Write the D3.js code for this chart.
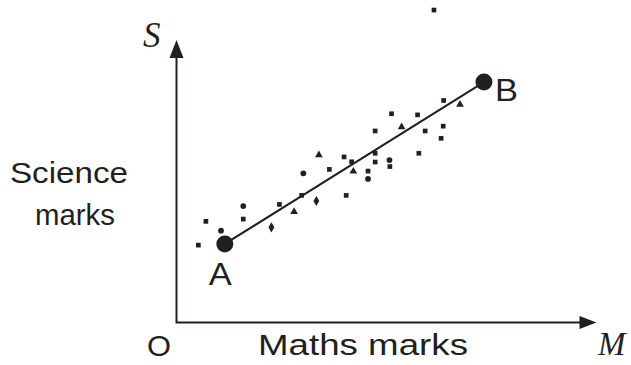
<!DOCTYPE html>
<html>
<head>
<meta charset="utf-8">
<script src="https://cdn.jsdelivr.net/npm/d3@7/dist/d3.min.js"></script>
<style>
  html, body { margin: 0; padding: 0; background: #fff; }
  svg { display: block; }
</style>
</head>
<body>
<svg id="chart" width="631" height="365"></svg>
<script>
// Scatter of science marks against maths marks (arbitrary 0–100 scale)
const mathsMarks = [5.2, 7.0, 10.6, 15.9, 15.9, 22.6, 24.5, 28.0, 29.8, 33.3, 30.2, 33.9,
  36.4, 39.9, 40.4, 41.7, 42.1, 45.6, 45.6, 47.3, 47.3, 47.3, 50.7, 50.8, 51.2, 53.6,
  57.4, 57.7, 59.2, 63.0, 63.5, 63.6, 67.5, 61.3];
const scienceMarks = [27.4, 35.8, 32.5, 41.2, 36.6, 33.7, 41.8, 39.2, 45.0, 43.0, 52.8, 59.3,
  54.2, 58.6, 45.0, 56.9, 53.5, 53.6, 50.8, 67.8, 59.9, 56.8, 57.5, 55.2, 73.9, 69.2,
  73.5, 59.9, 67.8, 65.2, 69.5, 78.6, 77.2, 110.6];
const markShapes = ["sq", "sq", "half", "half", "sq", "dia", "sq", "tri", "sq", "dia", "half", "tri",
  "sq", "sq", "sq", "sq", "tri", "sq", "half", "sq", "sq", "sq", "half", "sq", "sq", "tri",
  "sq", "sq", "sq", "sq", "sq", "sq", "tri", "sq"];

// End points of the trend line
const trendLabels = ["A", "B"];
const trendMaths = [11.5, 73.2];
const trendScience = [27.8, 85.1];

// Axis labels
const axisSymbolX = "M";
const axisSymbolY = "S";
const originLabel = "O";
const titleX = "Maths marks";
const titleY = ["Science", "marks"];

const ink = "#231f20";
const svg = d3.select("#chart");

const x = d3.scaleLinear().domain([0, 100]).range([176.5, 596.5]);
const y = d3.scaleLinear().domain([0, 100]).range([322.5, 40]);

// Axes: plain lines with solid arrowheads
svg.append("path")
  .attr("d", d3.line()([[x(0), y(100) + 16], [x(0), y(0)], [x(100) - 15, y(0)]]))
  .attr("fill", "none").attr("stroke", ink).attr("stroke-width", 2)
  .attr("stroke-linejoin", "miter");
// y-axis arrowhead
svg.append("path")
  .attr("d", `M${x(0)},${y(100)} L${x(0) - 7},${y(100) + 18} L${x(0) + 7},${y(100) + 18} Z`)
  .attr("fill", ink);
// x-axis arrowhead
svg.append("path")
  .attr("d", `M${x(100)},${y(0)} L${x(100) - 17},${y(0) - 6.5} L${x(100) - 17},${y(0) + 6.5} Z`)
  .attr("fill", ink);

// Trend line A–B
svg.append("line")
  .attr("x1", x(trendMaths[0])).attr("y1", y(trendScience[0]))
  .attr("x2", x(trendMaths[1])).attr("y2", y(trendScience[1]))
  .attr("stroke", ink).attr("stroke-width", 2);

// Scatter marks
const symbolFor = {
  sq: d3.symbol().type(d3.symbolSquare).size(22),
  dia: d3.symbol().type(d3.symbolDiamond).size(30),
  tri: d3.symbol().type(d3.symbolTriangle).size(26),
  half: d3.symbol().type(d3.symbolCircle).size(26)
};
svg.append("g").selectAll("path")
  .data(mathsMarks.map((m, i) => ({ m, s: scienceMarks[i], shape: markShapes[i] })))
  .join("path")
  .attr("transform", d => `translate(${x(d.m)},${y(d.s)})`)
  .attr("d", d => symbolFor[d.shape]())
  .attr("fill", ink);

// Endpoint dots
svg.append("g").selectAll("circle")
  .data(trendMaths.map((m, i) => ({ m, s: trendScience[i] })))
  .join("circle")
  .attr("cx", d => x(d.m)).attr("cy", d => y(d.s))
  .attr("r", 8.5).attr("fill", ink);

// Text
const sans = "Liberation Sans, Arial, Helvetica, sans-serif";
const serif = "Liberation Serif, Times New Roman, serif";

svg.append("text").text(trendLabels[0])
  .attr("x", x(trendMaths[0]) - 16).attr("y", 285)
  .attr("font-family", sans).attr("font-size", 31).attr("fill", ink)
  .attr("textLength", 23).attr("lengthAdjust", "spacingAndGlyphs");
svg.append("text").text(trendLabels[1])
  .attr("x", x(trendMaths[1]) + 11).attr("y", 101)
  .attr("font-family", sans).attr("font-size", 31).attr("fill", ink)
  .attr("textLength", 23).attr("lengthAdjust", "spacingAndGlyphs");

svg.append("text").text(axisSymbolY)
  .attr("x", 143).attr("y", 47)
  .attr("font-family", serif).attr("font-style", "italic")
  .attr("font-size", 35).attr("fill", ink);
svg.append("text").text(axisSymbolX)
  .attr("x", 598).attr("y", 355)
  .attr("font-family", serif).attr("font-style", "italic")
  .attr("font-size", 33).attr("fill", ink);

svg.append("text").text(originLabel)
  .attr("x", 147).attr("y", 356)
  .attr("font-family", sans).attr("font-size", 30).attr("fill", ink)
  .attr("textLength", 24).attr("lengthAdjust", "spacingAndGlyphs");

svg.append("text").text(titleX)
  .attr("x", 258).attr("y", 355)
  .attr("font-family", sans).attr("font-size", 30).attr("fill", ink)
  .attr("textLength", 210).attr("lengthAdjust", "spacingAndGlyphs");

svg.append("text").text(titleY[0])
  .attr("x", 10).attr("y", 183)
  .attr("font-family", sans).attr("font-size", 30).attr("fill", ink)
  .attr("textLength", 118).attr("lengthAdjust", "spacingAndGlyphs");
svg.append("text").text(titleY[1])
  .attr("x", 35).attr("y", 225)
  .attr("font-family", sans).attr("font-size", 30).attr("fill", ink)
  .attr("textLength", 80).attr("lengthAdjust", "spacingAndGlyphs");
</script>
</body>
</html>
